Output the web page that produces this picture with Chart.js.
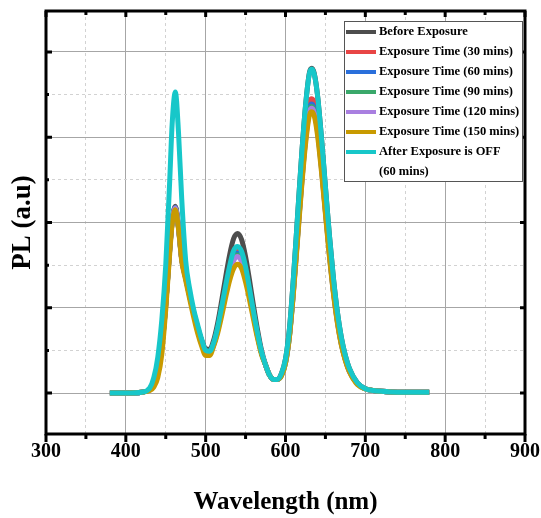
<!DOCTYPE html>
<html>
<head>
<meta charset="utf-8">
<script src="https://cdn.jsdelivr.net/npm/chart.js@4.4.1/dist/chart.umd.min.js"></script>
<style>
  html, body { margin: 0; padding: 0; background: #fff; }
  #wrap { width: 541px; height: 518px; position: relative; }
</style>
</head>
<body>
<div id="wrap"><canvas id="plChart"></canvas></div>
<script>
/* PL spectra before / during / after exposure */

const wavelength = [
  380, 400, 420, 430, 435, 440, 445, 450, 455, 458,
  462, 466, 470, 475, 480, 485, 490, 495, 500, 505,
  510, 515, 520, 525, 530, 535, 540, 545, 550, 555,
  560, 565, 570, 575, 580, 585, 590, 595, 600, 605,
  610, 615, 620, 625, 630, 633, 636, 640, 645, 650,
  655, 660, 665, 670, 675, 680, 690, 700, 710, 720,
  740, 760, 780
];

const beforeExp = [
  0, 0, 0.01, 0.04, 0.10, 0.24, 0.54, 1.05, 1.70, 2.02,
  2.19, 1.95, 1.58, 1.36, 1.15, 0.95, 0.77, 0.62, 0.52, 0.51,
  0.62, 0.82, 1.08, 1.36, 1.62, 1.81, 1.87, 1.80, 1.60, 1.32,
  1.02, 0.74, 0.50, 0.33, 0.21, 0.16, 0.16, 0.23, 0.40, 0.76,
  1.36, 2.06, 2.76, 3.36, 3.76, 3.81, 3.75, 3.50, 3.00, 2.42,
  1.85, 1.35, 0.95, 0.65, 0.44, 0.29, 0.12, 0.05, 0.03, 0.02,
  0.01, 0.01, 0.01
];
const exp30 = [
  0, 0, 0.01, 0.04, 0.10, 0.24, 0.54, 1.04, 1.69, 2.01,
  2.18, 1.94, 1.57, 1.35, 1.14, 0.94, 0.76, 0.61, 0.50, 0.48,
  0.58, 0.75, 0.98, 1.22, 1.44, 1.61, 1.66, 1.60, 1.43, 1.18,
  0.92, 0.68, 0.47, 0.33, 0.21, 0.16, 0.16, 0.22, 0.37, 0.69,
  1.23, 1.87, 2.50, 3.04, 3.41, 3.45, 3.40, 3.17, 2.72, 2.19,
  1.68, 1.22, 0.86, 0.59, 0.40, 0.26, 0.11, 0.05, 0.03, 0.02,
  0.01, 0.01, 0.01
];
const exp60 = [
  0, 0, 0.01, 0.04, 0.10, 0.24, 0.54, 1.04, 1.69, 2.01,
  2.18, 1.94, 1.57, 1.35, 1.14, 0.94, 0.76, 0.61, 0.49, 0.48,
  0.57, 0.74, 0.97, 1.21, 1.43, 1.59, 1.64, 1.58, 1.41, 1.17,
  0.91, 0.68, 0.47, 0.33, 0.21, 0.16, 0.16, 0.21, 0.36, 0.68,
  1.21, 1.83, 2.46, 2.99, 3.35, 3.39, 3.34, 3.12, 2.67, 2.15,
  1.65, 1.20, 0.85, 0.58, 0.39, 0.26, 0.11, 0.05, 0.03, 0.02,
  0.01, 0.01, 0.01
];
const exp90 = [
  0, 0, 0.01, 0.04, 0.10, 0.23, 0.53, 1.03, 1.68, 2.00,
  2.17, 1.93, 1.57, 1.35, 1.14, 0.94, 0.76, 0.61, 0.49, 0.48,
  0.57, 0.74, 0.96, 1.19, 1.41, 1.57, 1.62, 1.56, 1.39, 1.16,
  0.91, 0.67, 0.47, 0.33, 0.21, 0.16, 0.16, 0.21, 0.35, 0.67,
  1.20, 1.82, 2.43, 2.96, 3.32, 3.36, 3.31, 3.09, 2.65, 2.13,
  1.63, 1.19, 0.84, 0.57, 0.39, 0.26, 0.11, 0.05, 0.03, 0.02,
  0.01, 0.01, 0.01
];
const exp120 = [
  0, 0, 0.01, 0.04, 0.10, 0.23, 0.53, 1.03, 1.68, 2.00,
  2.17, 1.93, 1.56, 1.34, 1.13, 0.93, 0.75, 0.60, 0.48, 0.47,
  0.56, 0.73, 0.95, 1.18, 1.39, 1.55, 1.60, 1.54, 1.38, 1.14,
  0.90, 0.66, 0.47, 0.33, 0.21, 0.16, 0.16, 0.21, 0.35, 0.67,
  1.19, 1.81, 2.42, 2.95, 3.30, 3.34, 3.29, 3.07, 2.63, 2.12,
  1.62, 1.18, 0.83, 0.57, 0.39, 0.25, 0.11, 0.05, 0.03, 0.02,
  0.01, 0.01, 0.01
];
const exp150 = [
  0, 0, 0.01, 0.03, 0.07, 0.18, 0.45, 0.98, 1.64, 1.98,
  2.15, 1.92, 1.55, 1.32, 1.10, 0.89, 0.70, 0.55, 0.44, 0.44,
  0.55, 0.70, 0.90, 1.12, 1.32, 1.46, 1.51, 1.46, 1.30, 1.09,
  0.86, 0.64, 0.45, 0.33, 0.21, 0.16, 0.16, 0.20, 0.35, 0.66,
  1.18, 1.78, 2.39, 2.91, 3.26, 3.30, 3.25, 3.03, 2.60, 2.10,
  1.60, 1.17, 0.82, 0.56, 0.38, 0.25, 0.10, 0.05, 0.03, 0.02,
  0.01, 0.01, 0.01
];
const afterOff = [
  0, 0, 0.01, 0.06, 0.18, 0.42, 0.85, 1.50, 2.50, 3.15,
  3.53, 3.05, 2.28, 1.55, 1.22, 0.98, 0.80, 0.63, 0.50, 0.49,
  0.59, 0.77, 1.01, 1.26, 1.49, 1.67, 1.72, 1.66, 1.48, 1.22,
  0.95, 0.70, 0.48, 0.33, 0.21, 0.16, 0.16, 0.23, 0.40, 0.76,
  1.36, 2.06, 2.76, 3.36, 3.75, 3.80, 3.74, 3.50, 3.00, 2.42,
  1.85, 1.35, 0.95, 0.65, 0.44, 0.29, 0.12, 0.05, 0.03, 0.02,
  0.01, 0.01, 0.01
];

const seriesNames = [
  "Before Exposure",
  "Exposure Time (30 mins)",
  "Exposure Time (60 mins)",
  "Exposure Time (90 mins)",
  "Exposure Time (120 mins)",
  "Exposure Time (150 mins)",
  ["After Exposure is OFF", "(60 mins)"]
];
const seriesColors = ["#4d4d4d", "#e84545", "#2a6fdb", "#3aa86b", "#a97fe0", "#c89a00", "#17c7c9"];
const seriesValues = [beforeExp, exp30, exp60, exp90, exp120, exp150, afterOff];

const xMajor = [300, 400, 500, 600, 700, 800, 900];
const xMinor = [350, 450, 550, 650, 750, 850];
const yMajor = [0, 1, 2, 3, 4];
const yMinor = [0.5, 1.5, 2.5, 3.5];

const SERIF = "'Liberation Serif', 'Times New Roman', serif";

/* datasets: last one on top */
const datasets = seriesValues.map((vals, i) => ({
  label: Array.isArray(seriesNames[i]) ? seriesNames[i].join(" ") : seriesNames[i],
  data: wavelength.map((w, j) => ({ x: w, y: vals[j] })),
  borderColor: seriesColors[i],
  borderWidth: 5,
  pointRadius: 0,
  fill: false,
  cubicInterpolationMode: "monotone",
  order: seriesValues.length - 1 - i
}));

/* thick frame + tick marks */
const framePlugin = {
  id: "frame",
  afterDatasetsDraw(chart) {
    const { ctx, chartArea: a, scales } = chart;
    ctx.save();
    ctx.strokeStyle = "#000";
    ctx.lineWidth = 3;
    ctx.strokeRect(a.left, a.top, a.right - a.left, a.bottom - a.top);
    ctx.beginPath();
    xMajor.forEach(v => {
      const px = scales.x.getPixelForValue(v);
      ctx.moveTo(px, a.bottom); ctx.lineTo(px, a.bottom + 8);
      ctx.moveTo(px, a.top); ctx.lineTo(px, a.top + 6);
    });
    xMinor.forEach(v => {
      const px = scales.x.getPixelForValue(v);
      ctx.moveTo(px, a.bottom); ctx.lineTo(px, a.bottom + 5);
      ctx.moveTo(px, a.top); ctx.lineTo(px, a.top + 4);
    });
    yMajor.forEach(v => {
      const py = scales.y.getPixelForValue(v);
      ctx.moveTo(a.left, py); ctx.lineTo(a.left + 6, py);
      ctx.moveTo(a.right, py); ctx.lineTo(a.right - 5, py);
    });
    yMinor.forEach(v => {
      const py = scales.y.getPixelForValue(v);
      ctx.moveTo(a.left, py); ctx.lineTo(a.left + 3, py);
    });
    ctx.stroke();
    ctx.restore();
  }
};

/* boxed legend inside the plot, top right */
const legendPlugin = {
  id: "boxLegend",
  afterDraw(chart) {
    const { ctx, chartArea: a } = chart;
    const x0 = a.right - 181, y0 = a.top + 10, w = 178, h = 160, row = 20;
    ctx.save();
    ctx.fillStyle = "#fff";
    ctx.fillRect(x0, y0, w, h);
    ctx.strokeStyle = "#555";
    ctx.lineWidth = 1;
    ctx.strokeRect(x0 + 0.5, y0 + 0.5, w, h);
    ctx.font = "bold 12.5px " + SERIF;
    ctx.textBaseline = "middle";
    ctx.fillStyle = "#000";
    let y = y0 + 11;
    seriesNames.forEach((name, i) => {
      ctx.strokeStyle = seriesColors[i];
      ctx.lineWidth = 4;
      ctx.beginPath();
      ctx.moveTo(x0 + 2, y); ctx.lineTo(x0 + 32, y);
      ctx.stroke();
      const lines = Array.isArray(name) ? name : [name];
      lines.forEach((t, k) => ctx.fillText(t, x0 + 35, y + k * row));
      y += row * lines.length;
    });
    ctx.restore();
  }
};

new Chart(document.getElementById("plChart"), {
  type: "line",
  data: { datasets },
  options: {
    responsive: true,
    maintainAspectRatio: false,
    animation: false,
    layout: { padding: { top: 11, right: 16, left: 0, bottom: 0 } },
    plugins: { legend: { display: false }, tooltip: { enabled: false } },
    scales: {
      x: {
        type: "linear",
        min: 300, max: 900,
        afterBuildTicks: s => { s.ticks = xMajor.concat(xMinor).sort((p, q) => p - q).map(v => ({ value: v })); },
        afterFit: s => { s.height = 84; s.paddingLeft = 0; s.paddingRight = 0; },
        ticks: {
          autoSkip: false, maxRotation: 0, padding: 6, color: "#000",
          font: { family: SERIF, size: 20, weight: "bold" },
          callback: v => xMajor.includes(v) ? String(v) : ""
        },
        grid: {
          drawTicks: false, lineWidth: 1,
          color: c => c.tick && xMinor.includes(c.tick.value) ? "#d2d2d2" : "#a6a6a6"
        },
        border: { display: false, dash: c => c.tick && xMinor.includes(c.tick.value) ? [3, 3] : [] },
        title: {
          display: true, text: "Wavelength (nm)", color: "#000",
          font: { family: SERIF, size: 25, weight: "bold" },
          padding: { top: 0, bottom: 0 }
        }
      },
      y: {
        min: -0.48, max: 4.48,
        afterBuildTicks: s => { s.ticks = yMajor.concat(yMinor).sort((p, q) => p - q).map(v => ({ value: v })); },
        afterFit: s => { s.width = 46; s.paddingTop = 0; s.paddingBottom = 0; },
        ticks: { display: false },
        grid: {
          drawTicks: false, lineWidth: 1,
          color: c => c.tick && yMinor.includes(c.tick.value) ? "#d2d2d2" : "#a6a6a6"
        },
        border: { display: false, dash: c => c.tick && yMinor.includes(c.tick.value) ? [3, 3] : [] },
        title: {
          display: true, text: "PL (a.u)", color: "#000",
          font: { family: SERIF, size: 27, weight: "bold" },
          padding: { top: 7, bottom: 0 }
        }
      }
    }
  },
  plugins: [framePlugin, legendPlugin]
});
</script>
</body>
</html>
